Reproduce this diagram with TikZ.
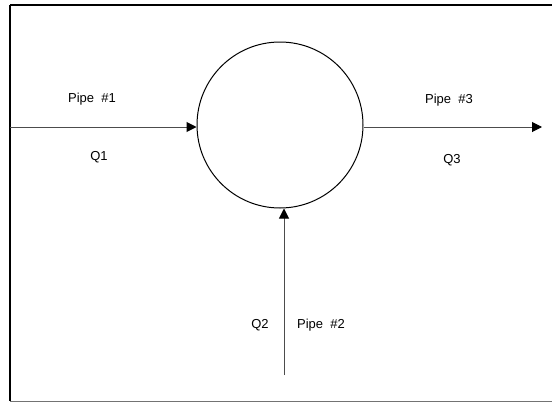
\documentclass[tikz,border=0pt]{standalone}
\usepackage{fontspec}
\setmainfont{Liberation Sans}
\usetikzlibrary{arrows.meta}
\begin{document}
\begin{tikzpicture}[x=1pt,y=-1pt,
  lbl/.style={font=\fontsize{13}{15}\selectfont, inner sep=0pt},
  pipe/.style={draw=black!70, line width=1pt, -{Triangle[length=10pt,width=10pt,color=black]}},
  junction/.style={circle, draw=black, line width=1pt, minimum size=166pt, inner sep=0pt}]
\useasboundingbox (0,0) rectangle (552,402);
% frame (right side lies outside the picture)
\draw[line width=2pt] (10,5) -- (560,5);
\draw[line width=2pt] (10,5) -- (10,401);
\draw[black!55, line width=1pt] (10,401) -- (560,401);
\node[junction] (j) at (280,125) {};
\coordinate (p1) at (10,127);
\coordinate (p3) at (542,127);
\coordinate (p2) at (284,375);
\draw[pipe] (p1) -- (p1 -| j.west);
\draw[pipe] (j.east |- p3) -- (p3);
\draw[pipe] (p2) -- (p2 |- j.south);
\node[lbl] (t1) at (92,99) {Pipe\ \ \#1};
\node[lbl] (q1) at (99,157) {Q1};
\node[lbl] (t3) at (449,100) {Pipe\ \ \#3};
\node[lbl] (q3) at (452,160) {Q3};
\node[lbl] (q2) at (260,325) {Q2};
\node[lbl] (t2) at (321,325) {Pipe\ \ \#2};
\end{tikzpicture}
\end{document}
